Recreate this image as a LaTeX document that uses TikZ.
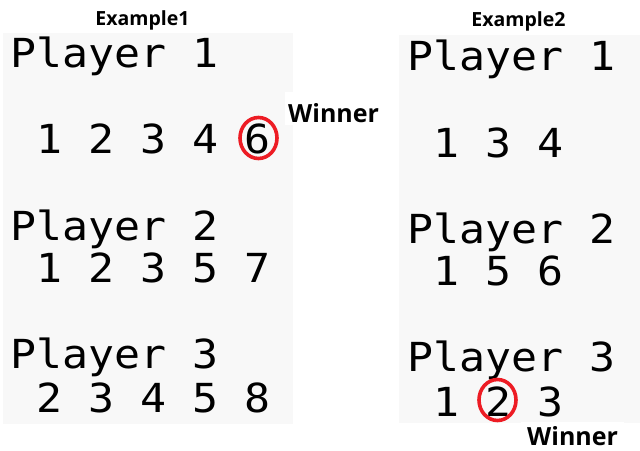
\documentclass[tikz,border=0pt]{standalone}
\usepackage{fontspec}
\usetikzlibrary{shapes.geometric}
\newfontfamily\monofont[FakeStretch=1.08]{DejaVu Sans Mono}
\newfontfamily\titlefont{Open Sans}
\definecolor{panel}{HTML}{F8F8F8}
\definecolor{ring}{HTML}{ED1C24}
\begin{document}
\begin{tikzpicture}[x=1pt,y=-1pt,
  mono/.style={anchor=base west, inner sep=0pt, font=\monofont\fontsize{40}{40}\selectfont},
  title/.style={anchor=base, inner sep=0pt, font=\titlefont\bfseries\fontsize{19.5}{20}\selectfont},
  winner/.style={anchor=base west, fill=white, font=\titlefont\bfseries\fontsize{25}{25}\selectfont},
  panelbox/.style={fill=panel, draw=none},
  ringmark/.style={draw=ring, line width=3.6pt, ellipse, minimum width=37pt, minimum height=41pt, inner sep=0pt}]
\useasboundingbox (0,0) rectangle (640,450);
\fill[white] (0,0) rectangle (640,450);
% panels
\path[panelbox] (3,33) rectangle (293,424);
\path[panelbox] (399,35) rectangle (640,423);
% titles
\node[title] (t1) at (142.5,25) {Example1};
\node[title] (t2) at (518.5,26) {Example2};
% panel 1
\node[mono] (a1) at (10,67) {Player 1};
\node[mono] (a2) at (10,153) {\ 1 2 3 4 6};
\node[mono] (a3) at (10,240) {Player 2};
\node[mono] (a4) at (10,282) {\ 1 2 3 5 7};
\node[mono] (a5) at (10,368) {Player 3};
\node[mono] (a6) at (10,412) {\ 2 3 4 5 8};
% panel 2
\node[mono] (b1) at (407,70) {Player 1};
\node[mono] (b2) at (407,157) {\ 1 3 4};
\node[mono] (b3) at (407,243) {Player 2};
\node[mono] (b4) at (407,285) {\ 1 5 6};
\node[mono] (b5) at (407,371) {Player 3};
\node[mono] (b6) at (407,416) {\ 1 2 3};
% winners
\node[winner, inner xsep=3pt, inner ysep=3pt, text height=27pt, text depth=0pt] (w1) at (285,122) {Winner};
\node[winner, inner xsep=6pt, inner ysep=4pt, text height=19pt, text depth=6pt] (w2) at (521,445) {Winner};
% rings
\node[ringmark] (r1) at (258.5,138) {};
\node[ringmark] (r2) at (497.5,400) {};
\end{tikzpicture}
\end{document}
